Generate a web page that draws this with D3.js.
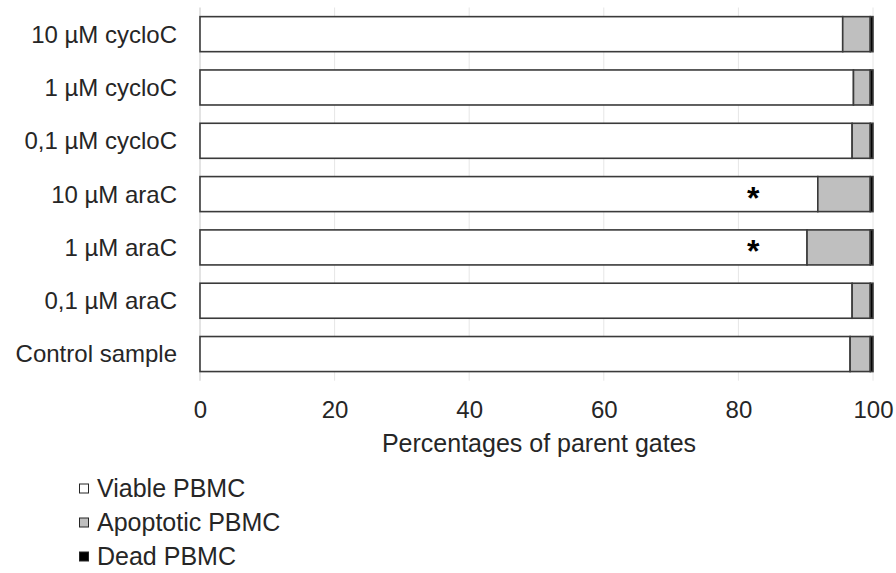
<!DOCTYPE html>
<html>
<head>
<meta charset="utf-8">
<script src="https://cdn.jsdelivr.net/npm/d3@7/dist/d3.min.js"></script>
<style>
  html, body { margin: 0; padding: 0; background: #ffffff; }
  svg { display: block; font-family: "Liberation Sans", Arial, sans-serif; }
</style>
</head>
<body>
<svg id="chart" width="896" height="573"></svg>
<script>
// Treatment groups, top to bottom
const categories = [
  "10 µM cycloC",
  "1 µM cycloC",
  "0,1 µM cycloC",
  "10 µM araC",
  "1 µM araC",
  "0,1 µM araC",
  "Control sample"
];
// Percentages of parent gates per population
const viable     = [95.5, 97.1, 96.9, 91.8, 90.2, 96.9, 96.6];
const apoptotic  = [4.1, 2.5, 2.7, 7.8, 9.4, 2.7, 3.0];
const dead       = [0.4, 0.4, 0.4, 0.4, 0.4, 0.4, 0.4];
// Groups marked as significant
const significant = [false, false, false, true, true, false, false];
const seriesNames = ["Viable PBMC", "Apoptotic PBMC", "Dead PBMC"];
const seriesColors = ["#ffffff", "#bfbfbf", "#000000"];
const xTicks = [0, 20, 40, 60, 80, 100];

const rows = categories.map((c, i) => ({
  category: c,
  "Viable PBMC": viable[i],
  "Apoptotic PBMC": apoptotic[i],
  "Dead PBMC": dead[i],
  sig: significant[i]
}));

const svg = d3.select("#chart");
const plot = { left: 200, right: 873, top: 7.5, bottom: 380.7 };

const x = d3.scaleLinear().domain([0, 100]).range([plot.left, plot.right]);
const y = d3.scaleBand().domain(categories).range([plot.top, plot.bottom]).paddingInner(0.343).paddingOuter(0.1715);

// vertical gridlines
svg.append("g")
  .selectAll("line")
  .data(xTicks.slice(1))
  .join("line")
  .attr("x1", d => x(d)).attr("x2", d => x(d))
  .attr("y1", plot.top).attr("y2", plot.bottom)
  .attr("stroke", "#e6e6e6").attr("stroke-width", 1);

// category axis line
svg.append("line")
  .attr("x1", plot.left).attr("x2", plot.left)
  .attr("y1", plot.top).attr("y2", plot.bottom)
  .attr("stroke", "#d0d0d0").attr("stroke-width", 1.2);

// stacked bars
const stack = d3.stack().keys(seriesNames);
const layers = stack(rows);

svg.append("g")
  .selectAll("g")
  .data(layers)
  .join("g")
  .attr("fill", (d, i) => seriesColors[i])
  .selectAll("rect")
  .data(d => d)
  .join("rect")
  .attr("x", d => x(d[0]))
  .attr("width", d => x(d[1]) - x(d[0]))
  .attr("y", d => y(d.data.category))
  .attr("height", y.bandwidth())
  .attr("stroke", "#3a3a3a")
  .attr("stroke-width", 1.6);

// significance markers
svg.append("g")
  .selectAll("text")
  .data(rows.filter(r => r.sig))
  .join("text")
  .attr("x", x(82.2))
  .attr("y", d => y(d.category) + y.bandwidth() / 2 + 15)
  .attr("text-anchor", "middle")
  .attr("font-size", 32)
  .attr("font-weight", "bold")
  .attr("fill", "#000")
  .text("*");

// category labels
svg.append("g")
  .selectAll("text")
  .data(categories)
  .join("text")
  .attr("x", 177)
  .attr("y", d => y(d) + y.bandwidth() / 2)
  .attr("dy", "0.35em")
  .attr("text-anchor", "end")
  .attr("font-size", 24)
  .attr("fill", "#262626")
  .text(d => d);

// x axis tick labels
const xAxis = d3.axisBottom(x).tickValues(xTicks).tickSize(0).tickPadding(0);
const gx = svg.append("g")
  .attr("transform", `translate(0, 418)`)
  .call(xAxis);
gx.select(".domain").remove();
gx.selectAll("text")
  .attr("dy", 0)
  .attr("font-size", 24)
  .attr("font-family", "Liberation Sans, Arial, sans-serif")
  .attr("fill", "#262626");

// x axis title
svg.append("text")
  .attr("x", 539)
  .attr("y", 452)
  .attr("text-anchor", "middle")
  .attr("font-size", 25)
  .attr("fill", "#262626")
  .text("Percentages of parent gates");

// legend
const legend = svg.append("g")
  .selectAll("g")
  .data(seriesNames)
  .join("g")
  .attr("transform", (d, i) => `translate(79, ${488 + i * 34})`);
legend.append("rect")
  .attr("x", 0.5).attr("y", -4)
  .attr("width", 9).attr("height", 9)
  .attr("fill", (d, i) => seriesColors[i])
  .attr("stroke", "#262626").attr("stroke-width", 1);
legend.append("text")
  .attr("x", 18)
  .attr("y", 0)
  .attr("dy", "0.35em")
  .attr("font-size", 25)
  .attr("fill", "#262626")
  .text(d => d);
</script>
</body>
</html>
